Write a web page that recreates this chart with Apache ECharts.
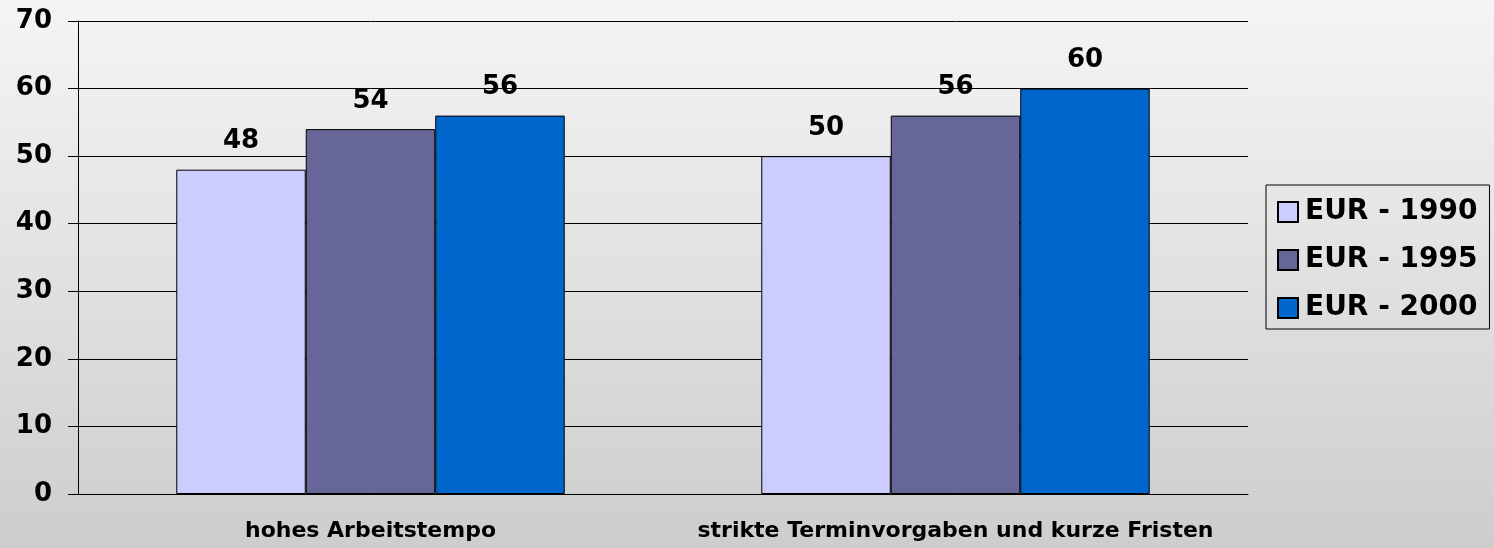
<!DOCTYPE html>
<html>
<head>
<meta charset="utf-8">
<script src="https://cdn.jsdelivr.net/npm/echarts@6/dist/echarts.min.js"></script>
<style>
  html, body { margin: 0; padding: 0; }
  #chart { width: 1494px; height: 548px; }
</style>
</head>
<body>
<div id="chart"></div>
<script>
// data
const categories = ['hohes Arbeitstempo', 'strikte Terminvorgaben und kurze Fristen'];
const seriesNames = ['EUR - 1990', 'EUR - 1995', 'EUR - 2000'];
const eur1990 = [48, 50];
const eur1995 = [54, 56];
const eur2000 = [56, 60];
const colors = ['#CCCCFF', '#666699', '#0066CC'];

const font = 'DejaVu Sans';
const chart = echarts.init(document.getElementById('chart'));

function makeSeries(name, data, color) {
  return {
    name: name,
    type: 'bar',
    data: data,
    barGap: '0%',
    barCategoryGap: '33.6%',
    itemStyle: { color: color, borderColor: '#000', borderWidth: 1 },
    label: {
      show: true,
      position: 'top',
      distance: 15,
      color: '#000',
      fontFamily: font,
      fontWeight: 'bold',
      fontSize: 26
    }
  };
}

const option = {
  backgroundColor: new echarts.graphic.LinearGradient(0, 0, 0, 1, [
    { offset: 0, color: '#f5f5f5' },
    { offset: 1, color: '#cdcdcd' }
  ]),
  animation: false,
  grid: { left: 78, right: 246, top: 21, bottom: 54 },
  legend: {
    orient: 'vertical',
    left: 1266,
    top: 185,
    padding: [13, 12, 7, 11],
    itemWidth: 20,
    itemHeight: 20,
    itemGap: 20,
    borderColor: '#000',
    borderWidth: 1,
    icon: 'rect',
    textStyle: {
      color: '#000',
      fontFamily: font,
      fontWeight: 'bold',
      fontSize: 28,
      lineHeight: 28,
      padding: [0, 0, 0, 2]
    },
    data: seriesNames
  },
  xAxis: {
    type: 'category',
    data: categories,
    axisLine: { lineStyle: { color: '#000', width: 1 } },
    axisTick: { length: 8, lineStyle: { color: '#000' } },
    axisLabel: {
      interval: 0,
      hideOverlap: false,
      color: '#000',
      fontFamily: font,
      fontWeight: 'bold',
      fontSize: 22,
      margin: 26
    }
  },
  yAxis: {
    type: 'value',
    min: 0,
    max: 70,
    interval: 10,
    axisLine: { show: true, lineStyle: { color: '#000', width: 1 } },
    axisTick: { show: true, length: 10, lineStyle: { color: '#000' } },
    splitLine: { lineStyle: { color: '#000', width: 1 } },
    axisLabel: {
      color: '#000',
      fontFamily: font,
      fontWeight: 'bold',
      fontSize: 26,
      margin: 26
    }
  },
  series: [
    makeSeries(seriesNames[0], eur1990, colors[0]),
    makeSeries(seriesNames[1], eur1995, colors[1]),
    makeSeries(seriesNames[2], eur2000, colors[2])
  ]
};

chart.setOption(option);
</script>
</body>
</html>
